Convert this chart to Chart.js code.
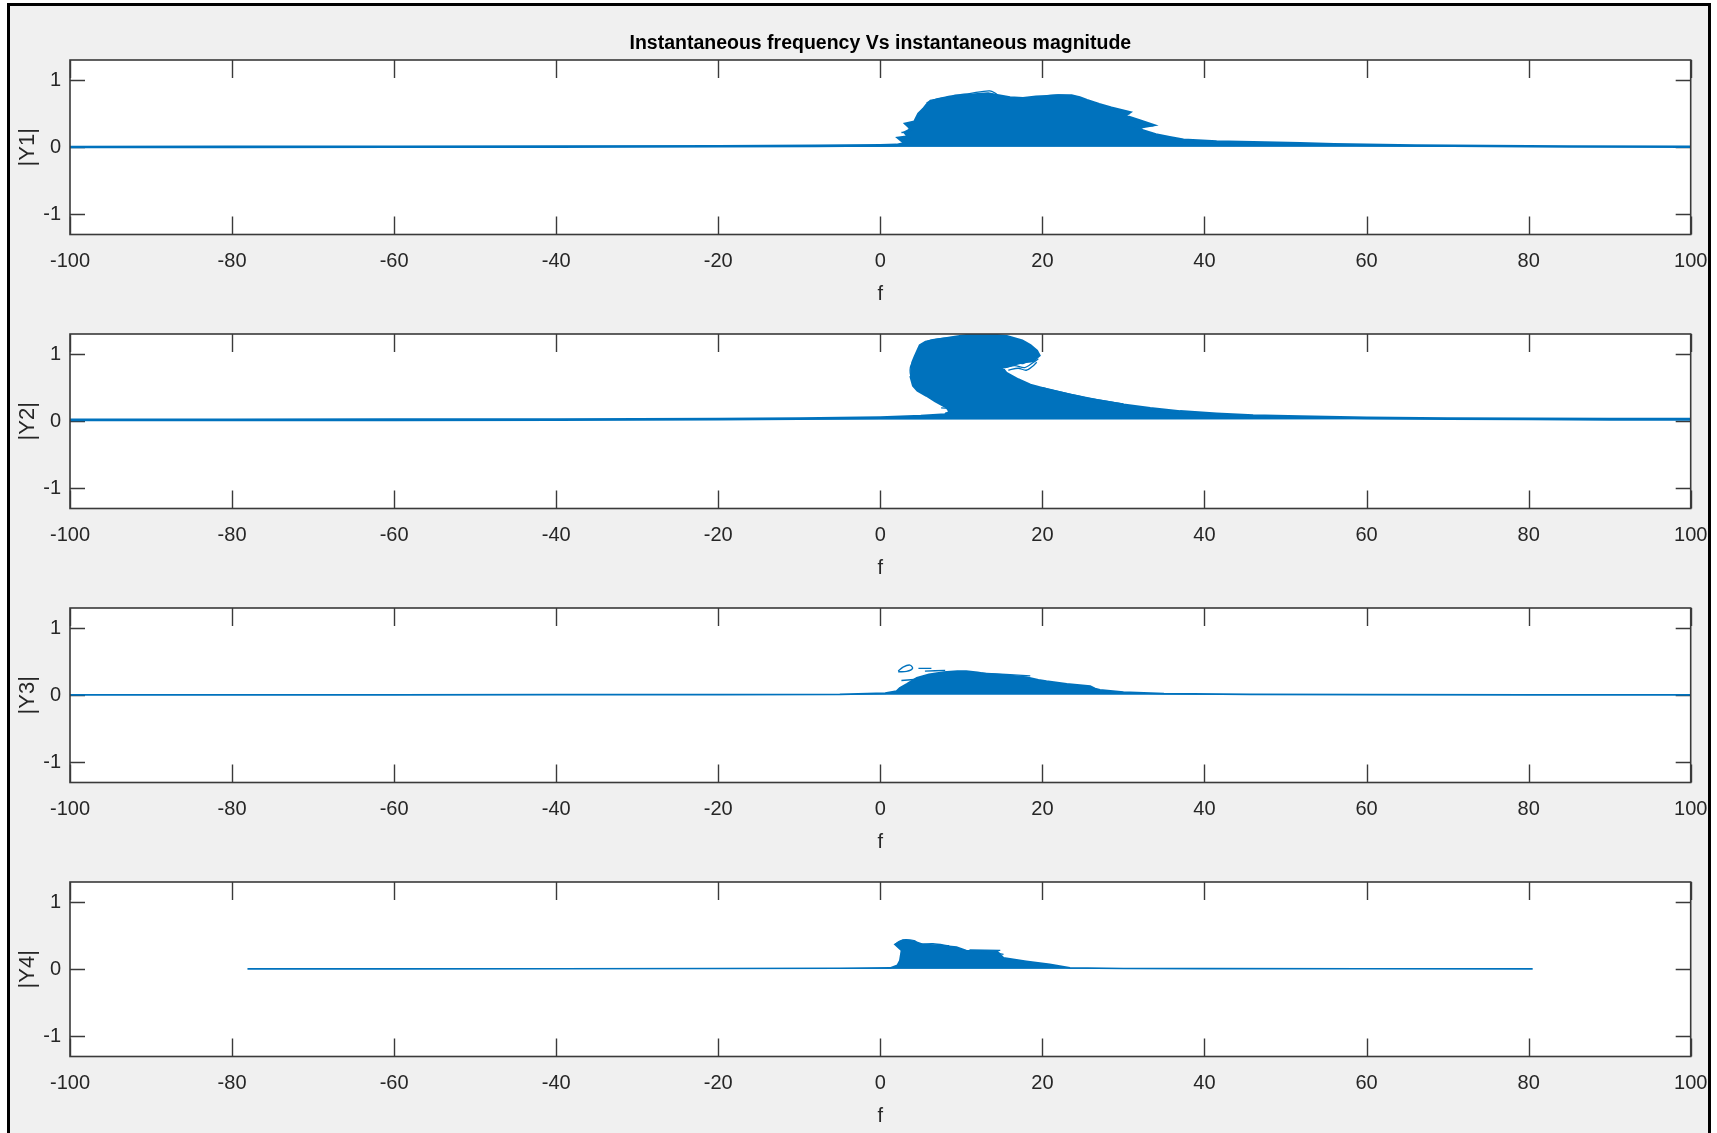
<!DOCTYPE html>
<html>
<head>
<meta charset="utf-8">
<title>Instantaneous frequency Vs instantaneous magnitude</title>
<script src="https://cdn.jsdelivr.net/npm/chart.js@4/dist/chart.umd.min.js"></script>
<style>
  html, body { margin: 0; padding: 0; background: #ffffff; width: 1717px; height: 1133px; overflow: hidden; }
  #frame { position: absolute; left: 7px; top: 3px; width: 1698px; height: 1140px;
           background: #f0f0f0; border: 3px solid #000; border-bottom: none; }
  canvas { position: absolute; left: 0; }
</style>
</head>
<body>
<div id="frame"></div>
<canvas id="p1" width="1717" height="308" style="top:0px"></canvas>
<canvas id="p2" width="1717" height="308" style="top:274px"></canvas>
<canvas id="p3" width="1717" height="308" style="top:548px"></canvas>
<canvas id="p4" width="1717" height="308" style="top:822px"></canvas>
<script>
// ---- axis ticks ----
const xTicks = [-100, -80, -60, -40, -20, 0, 20, 40, 60, 80, 100];
const yTicks = [-1, 0, 1];

// ---- |Y1| : trace envelope (frequency f, magnitude) ----
const y1Freq = [-100, -80, -60, -40, -20, -8, 0, 2.0, 3.0, 2.2, 3.4, 3.0, 3.8, 3.1, 4.2, 4.7, 5.3, 5.7, 6.2, 7.5,
  9.0, 10.5, 12.0, 13.3, 14.6, 16.0, 17.6, 19.2, 20.5, 22.0, 23.6, 24.6, 25.5, 27.0, 28.5, 30.8, 30.2, 32.0, 33.7,
  31.8, 32.4, 34.0, 35.7, 37.4, 41.5, 46.0, 51.8, 56.0, 60.0, 66.0, 75.0, 85.0, 100];
const y1Mag = [0.004, 0.005, 0.007, 0.01, 0.015, 0.02, 0.028, 0.035, 0.06, 0.14, 0.16, 0.22, 0.27, 0.35, 0.38, 0.50,
  0.57, 0.63, 0.69, 0.72, 0.75, 0.77, 0.79, 0.80, 0.77, 0.74, 0.73, 0.75, 0.76, 0.77, 0.77, 0.74, 0.70, 0.64, 0.59,
  0.52, 0.47, 0.40, 0.33, 0.29, 0.25, 0.19, 0.15, 0.11, 0.085, 0.072, 0.06, 0.045, 0.035, 0.025, 0.018, 0.012, 0.008];
// |Y1| : stray loops at the edge of the cluster (null breaks the stroke)
const y1LoopFreq = [5.7, 7.0, 9.0, 11.0, 13.5, 14.4, 12.5, 9.5, 7.0, 5.8, null, 2.2, 4.5, 7.0, null, 3.0, 4.6, null,
  2.6, 4.4, null, 3.4, 5.0, null, 27.5, 30.8, null, 27.8, 33.7, null, 28.2, 32.4, null, 26.0, 31.2, null, 24.0, 22.0, 20.5];
const y1LoopMag = [0.66, 0.72, 0.77, 0.80, 0.84, 0.78, 0.79, 0.76, 0.70, 0.62, null, 0.14, 0.145, 0.13, null, 0.35, 0.35, null,
  0.22, 0.23, null, 0.27, 0.28, null, 0.50, 0.50, null, 0.33, 0.32, null, 0.25, 0.24, null, 0.42, 0.44, null, 0.76, 0.78, 0.77];

// ---- |Y2| ----
const y2Freq = [-100, -80, -60, -40, -20, -10, 0, 5.0, 8.0, 8.6, 8.2, 6.8, 5.7, 4.6, 4.07, 3.8, 3.86, 4.0, 4.27, 4.6,
  4.9, 5.6, 6.9, 9.0, 11.5, 13.5, 15.6, 17.5, 18.5, 19.3, 19.6, 18.8, 17.5, 16.2, 15.0, 15.5, 17.0, 18.5, 20.9, 23.5,
  26.7, 30.0, 33.3, 37.0, 41.5, 46.0, 51.8, 60.0, 70.0, 80.0, 90.0, 100];
const y2Mag = [0.02, 0.02, 0.022, 0.025, 0.032, 0.04, 0.055, 0.075, 0.10, 0.14, 0.21, 0.30, 0.385, 0.46, 0.53, 0.65,
  0.76, 0.88, 0.96, 1.05, 1.13, 1.18, 1.21, 1.25, 1.295, 1.29, 1.265, 1.20, 1.13, 1.05, 0.98, 0.90, 0.88, 0.84, 0.80,
  0.72, 0.62, 0.54, 0.46, 0.39, 0.31, 0.245, 0.19, 0.145, 0.11, 0.085, 0.07, 0.05, 0.04, 0.035, 0.03, 0.03];
const y2LoopFreq = [15.0, 16.4, 17.6, 18.6, 19.4, null, 15.4, 16.6, 17.8, 18.9, 19.5, null, 15.8, 17.0, 18.0, 18.8, 19.3, null,
  4.5, 3.7, 3.9, 4.6, 5.8, 7.5, null, 5.0, 6.2, 8.0, 10.0, null, 7.5, 9.0, 11.0, null, 8.0, 10.5, null, 20.0, 25.0, 30.0];
const y2LoopMag = [0.84, 0.88, 0.86, 0.93, 0.97, null, 0.80, 0.83, 0.80, 0.88, 0.93, null, 0.76, 0.79, 0.76, 0.82, 0.88, null,
  1.00, 0.80, 0.62, 0.52, 0.44, 0.39, null, 1.14, 1.21, 1.24, 1.25, null, 0.20, 0.19, 0.17, null, 0.12, 0.12, null, 0.50, 0.36, 0.26];

// ---- |Y3| ----
const y3Freq = [-100, -80, -60, -40, -20, -5, 0.6, 2.0, 2.4, 3.3, 4.5, 6.0, 7.8, 9.5, 10.6, 12.0, 13.1, 15.5, 18.0,
  19.5, 20.5, 23.0, 25.9, 26.5, 27.1, 30.0, 35.0, 45.6, 60, 80, 100];
const y3Mag = [0.006, 0.006, 0.007, 0.008, 0.01, 0.012, 0.03, 0.06, 0.11, 0.17, 0.26, 0.31, 0.345, 0.36, 0.36, 0.34,
  0.32, 0.30, 0.27, 0.23, 0.21, 0.17, 0.135, 0.10, 0.08, 0.045, 0.025, 0.012, 0.008, 0.006, 0.006];
const y3LoopFreq = [2.2, 2.8, 3.65, 3.98, 3.24, 2.2, null, 4.7, 6.3, null, 2.6, 5.7, null, 5.5, 8.0, null, 22.8, 25.9, null, 12.5, 18.5];
const y3LoopMag = [0.36, 0.42, 0.45, 0.40, 0.355, 0.35, null, 0.40, 0.40, null, 0.22, 0.25, null, 0.36, 0.37, null, 0.13, 0.13, null, 0.33, 0.29];

// ---- |Y4| ----
const y4Freq = [-78.1, -60, -40, -20, -5, 1.2, 2.1, 2.4, 2.6, 1.8, 2.8, 4.07, 5.3, 7.5, 9.4, 10.6, 14.4, 15.2, 18.0,
  20.9, 23.4, 30.0, 40.0, 60.0, 80.5];
const y4Mag = [0.005, 0.006, 0.008, 0.012, 0.015, 0.02, 0.06, 0.13, 0.28, 0.37, 0.43, 0.42, 0.37, 0.355, 0.33, 0.28,
  0.27, 0.17, 0.12, 0.075, 0.02, 0.012, 0.01, 0.008, 0.006];
const y4LoopFreq = [1.8, 2.4, 3.2, 4.4, 3.8, 2.8, 3.4, null, 4.5, 6.5, 8.5, null, 11.0, 14.8, null, 13.5, 15.2];
const y4LoopMag = [0.37, 0.42, 0.44, 0.41, 0.37, 0.38, 0.34, null, 0.37, 0.38, 0.35, null, 0.29, 0.28, null, 0.26, 0.22];

// ---- styling ----
const BLUE = '#0072BD';
const AXIS_GREY = '#262626';
const SANS = '"Liberation Sans", Arial, Helvetica, sans-serif';

const toPoints = (fx, my) => fx.map((x, i) => ({ x: x, y: my[i] }));

// White axes background, inner ticks on all four sides and the axes box
const axesBox = {
  id: 'axesBox',
  beforeDraw(chart) {
    const { ctx, chartArea: a } = chart;
    ctx.save();
    ctx.fillStyle = '#ffffff';
    ctx.fillRect(a.left, a.top, a.right - a.left, a.bottom - a.top);
    ctx.restore();
  },
  beforeDatasetsDraw(chart) {
    const { ctx, chartArea: a, scales } = chart;
    ctx.save();
    ctx.strokeStyle = '#3a3a3a';
    ctx.lineWidth = 1.4;
    ctx.beginPath();
    scales.x.ticks.forEach(t => {
      const px = Math.round(scales.x.getPixelForValue(t.value)) + 0.5;
      ctx.moveTo(px, a.bottom); ctx.lineTo(px, a.bottom - 18);
      ctx.moveTo(px, a.top); ctx.lineTo(px, a.top + 18);
    });
    scales.y.ticks.forEach(t => {
      const py = Math.round(scales.y.getPixelForValue(t.value)) + 0.5;
      ctx.moveTo(a.left, py); ctx.lineTo(a.left + 15, py);
      ctx.moveTo(a.right, py); ctx.lineTo(a.right - 15, py);
    });
    ctx.stroke();
    ctx.restore();
  },
  afterDatasetsDraw(chart) {
    const { ctx, chartArea: a } = chart;
    ctx.save();
    ctx.strokeStyle = '#3a3a3a';
    ctx.lineWidth = 1.6;
    ctx.strokeRect(a.left, a.top, a.right - a.left, a.bottom - a.top);
    ctx.restore();
  }
};

const panels = [
  { id: 'p1', label: '|Y1|', f: y1Freq, m: y1Mag, lf: y1LoopFreq, lm: y1LoopMag, w: 2.6, first: true },
  { id: 'p2', label: '|Y2|', f: y2Freq, m: y2Mag, lf: y2LoopFreq, lm: y2LoopMag, w: 2.8 },
  { id: 'p3', label: '|Y3|', f: y3Freq, m: y3Mag, lf: y3LoopFreq, lm: y3LoopMag, w: 1.8 },
  { id: 'p4', label: '|Y4|', f: y4Freq, m: y4Mag, lf: y4LoopFreq, lm: y4LoopMag, w: 1.6 }
];

panels.forEach(p => {
  new Chart(document.getElementById(p.id), {
    type: 'line',
    data: {
      datasets: [
        {
          data: toPoints(p.f, p.m),
          borderColor: BLUE,
          backgroundColor: BLUE,
          borderWidth: p.w,
          fill: 'shape',
          pointRadius: 0,
          tension: 0
        },
        {
          data: toPoints(p.lf, p.lm),
          borderColor: BLUE,
          borderWidth: 1.3,
          fill: false,
          spanGaps: false,
          pointRadius: 0,
          tension: 0.3
        }
      ]
    },
    options: {
      responsive: false,
      animation: false,
      events: [],
      layout: { padding: { left: 0, right: 26.3, top: p.first ? 0 : 60, bottom: 0 } },
      plugins: {
        legend: { display: false },
        tooltip: { enabled: false },
        title: p.first ? {
          display: true,
          fullSize: false,
          text: 'Instantaneous frequency Vs instantaneous magnitude',
          color: '#000000',
          font: { family: SANS, size: 19.5, weight: 'bold', lineHeight: 1.2 },
          padding: { top: 32, bottom: 4.6 }
        } : { display: false }
      },
      scales: {
        x: {
          type: 'linear',
          position: 'bottom',
          min: -100,
          max: 100,
          grid: { display: false, drawTicks: false },
          border: { display: false },
          afterBuildTicks: s => { s.ticks = xTicks.map(v => ({ value: v })); },
          afterFit: s => { s.height = 73.5; s.paddingLeft = 0; s.paddingRight = 0; },
          ticks: {
            color: AXIS_GREY,
            font: { family: SANS, size: 20 },
            padding: 15,
            maxRotation: 0,
            autoSkip: false,
            callback: v => String(v)
          },
          title: {
            display: true,
            text: 'f',
            color: AXIS_GREY,
            font: { family: SANS, size: 20 },
            padding: { top: 0, bottom: 1.3 }
          }
        },
        y: {
          type: 'linear',
          min: -1.3,
          max: 1.3,
          grid: { display: false, drawTicks: false },
          border: { display: false },
          afterBuildTicks: s => { s.ticks = yTicks.map(v => ({ value: v })); },
          afterFit: s => { s.width = 70; },
          ticks: {
            color: AXIS_GREY,
            font: { family: SANS, size: 20 },
            padding: 9,
            callback: v => String(v)
          },
          title: {
            display: true,
            text: p.label,
            color: AXIS_GREY,
            font: { family: SANS, size: 22 },
            padding: { top: 14.3, bottom: 0 }
          }
        }
      }
    },
    plugins: [axesBox]
  });
});
</script>
</body>
</html>
